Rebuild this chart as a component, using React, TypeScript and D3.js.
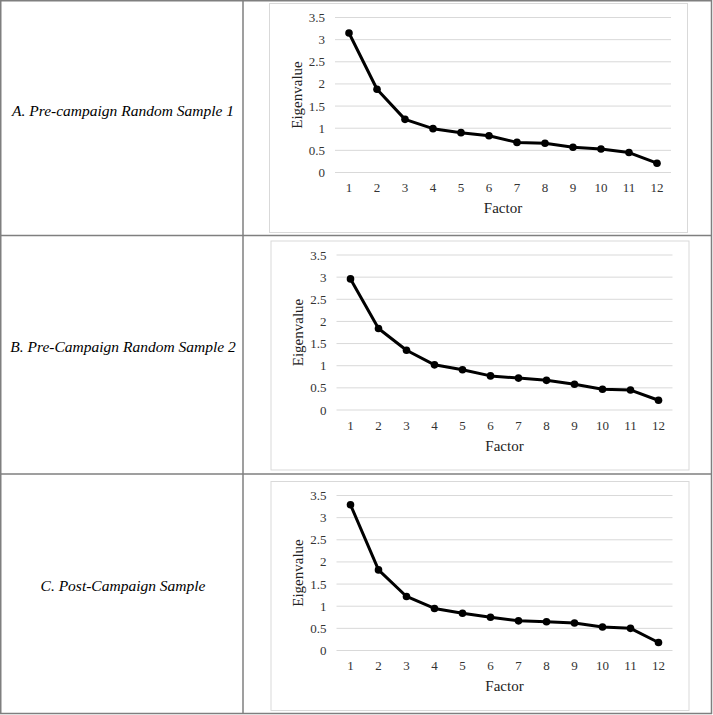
import React from 'react';
import * as d3 from 'd3';

const factors = [1, 2, 3, 4, 5, 6, 7, 8, 9, 10, 11, 12];
const yTicks = [0, 0.5, 1, 1.5, 2, 2.5, 3, 3.5];

const sampleA = [3.15, 1.88, 1.2, 0.99, 0.9, 0.83, 0.68, 0.66, 0.57, 0.53, 0.45, 0.21];
const sampleB = [2.96, 1.84, 1.35, 1.02, 0.91, 0.77, 0.72, 0.67, 0.58, 0.47, 0.45, 0.22];
const sampleC = [3.29, 1.82, 1.22, 0.95, 0.84, 0.75, 0.67, 0.65, 0.62, 0.53, 0.5, 0.18];

const rowLabels = [
    'A. Pre-campaign Random Sample 1',
    'B. Pre-Campaign Random Sample 2',
    'C. Post-Campaign Sample'
];

const W = 713;
const H = 715;
const colSplit = 243;
const rowLines = [0.75, 235.5, 474, 713.5];
const frames = [
    { x: 269, y: 3 },
    { x: 270.5, y: 240.5 },
    { x: 270.5, y: 481 }
];

const frameW = 418;
const frameH = 229;
const plot = { left: 66, top: 14.5, width: 336, height: 155 };
const serif = '"Liberation Serif", "Times New Roman", serif';

function Scree({ x0, y0, values }: { x0: number, y0: number, values: number[] }) {
    const x = d3.scaleBand<number>().domain(factors).range([0, plot.width]);
    const y = d3.scaleLinear().domain([0, 3.5]).range([plot.height, 0]);
    const line = d3.line<number>()
        .x((d, i) => x(factors[i])! + x.bandwidth() / 2)
        .y((d) => y(d));

    return (
        <g transform={`translate(${x0}, ${y0})`}>
            <rect x={0.5} y={0.5} width={frameW} height={frameH} fill="#fff" stroke="#d9d9d9" />
            <g transform={`translate(${plot.left}, ${plot.top})`}>
                {yTicks.map((t) => (
                    <g key={t}>
                        <line x1={0} x2={plot.width} y1={y(t)} y2={y(t)} stroke="#d9d9d9" strokeWidth={1} />
                        <text x={-10} y={y(t)} dy="0.35em" textAnchor="end" fontSize={13} fill="#333" fontFamily={serif}>
                            {t}
                        </text>
                    </g>
                ))}
                {factors.map((f) => (
                    <text key={f} x={x(f)! + x.bandwidth() / 2} y={plot.height + 19.5} textAnchor="middle"
                          fontSize={13} fill="#333" fontFamily={serif}>
                        {f}
                    </text>
                ))}
                <path d={line(values) || ''} fill="none" stroke="#000" strokeWidth={3} strokeLinejoin="round" />
                {values.map((v, i) => (
                    <circle key={i} cx={x(factors[i])! + x.bandwidth() / 2} cy={y(v)} r={3.8} fill="#000" />
                ))}
                <text x={plot.width / 2} y={plot.height + 40.5} textAnchor="middle" fontSize={15}
                      fill="#222" fontFamily={serif}>Factor</text>
                <text transform={`translate(-38.5, ${plot.height / 2}) rotate(-90)`} dy="0.35em" textAnchor="middle"
                      fontSize={15} fill="#222" fontFamily={serif}>Eigenvalue</text>
            </g>
        </g>
    );
}

export default function App() {
    const samples = [sampleA, sampleB, sampleC];
    const border = '#7f7f7f';
    return (
        <svg width={W} height={H} style={{ position: 'absolute', left: 0, top: 0, background: '#fff' }}>
            <rect x={0} y={0} width={W} height={H} fill="#fff" />
            {samples.map((s, i) => (
                <g key={i}>
                    <text x={123} y={(rowLines[i] + rowLines[i + 1]) / 2 - 8} dy="0.35em" textAnchor="middle"
                          fontSize={15.5} fontStyle="italic" fill="#000" fontFamily={serif}>
                        {rowLabels[i]}
                    </text>
                    <Scree x0={frames[i].x} y0={frames[i].y} values={s} />
                </g>
            ))}
            {rowLines.map((r, i) => (
                <line key={i} x1={0} x2={W - 1} y1={r} y2={r} stroke={border} strokeWidth={1.5} />
            ))}
            <line x1={0.75} x2={0.75} y1={0} y2={714} stroke={border} strokeWidth={1.5} />
            <line x1={colSplit} x2={colSplit} y1={0} y2={714} stroke={border} strokeWidth={1.5} />
            <line x1={711.5} x2={711.5} y1={0} y2={714} stroke={border} strokeWidth={1.5} />
        </svg>
    );
}
